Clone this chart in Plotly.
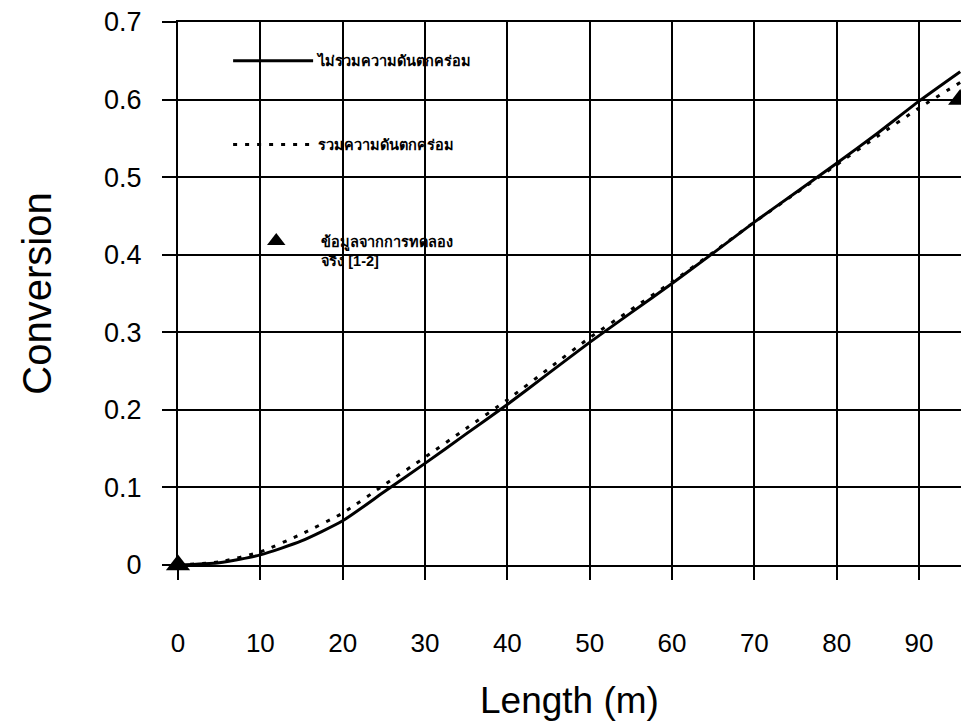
import plotly.graph_objects as go

# Data
length_m = [0, 5, 10, 15, 20, 25, 30, 35, 40, 45, 50, 55, 60, 65, 70, 75, 80, 85, 90, 95]
conv_no_dp = [0, 0.003, 0.013, 0.031, 0.057, 0.094, 0.131, 0.169, 0.207, 0.247, 0.287,
              0.325, 0.363, 0.402, 0.442, 0.480, 0.518, 0.557, 0.598, 0.636]
conv_with_dp = [0, 0.004, 0.017, 0.040, 0.067, 0.103, 0.139, 0.176, 0.213, 0.253, 0.293,
                0.329, 0.365, 0.403, 0.442, 0.479, 0.516, 0.553, 0.589, 0.622]
exp_length = [0, 95]
exp_conv = [0, 0.6]

x_ticks = [0, 10, 20, 30, 40, 50, 60, 70, 80, 90]
y_ticks = [0, 0.1, 0.2, 0.3, 0.4, 0.5, 0.6, 0.7]
y_ticktext = ["0", "0.1", "0.2", "0.3", "0.4", "0.5", "0.6", "0.7"]

names = ["ไม่รวมความดันตกคร่อม", "รวมความดันตกคร่อม", "ข้อมูลจากการทดลอง<br>จริง [1-2]"]

fig = go.Figure()
fig.add_trace(go.Scatter(x=length_m, y=conv_no_dp, mode="lines", name=names[0],
                         line=dict(color="black", width=3, shape="spline", smoothing=0.6),
                         legendgroup="a", legend="legend"))
fig.add_trace(go.Scatter(x=length_m, y=conv_with_dp, mode="lines", name=names[1],
                         line=dict(color="black", width=3, dash="4px,8px", shape="spline", smoothing=0.6),
                         legendgroup="b", legend="legend"))
fig.add_trace(go.Scatter(x=exp_length, y=exp_conv, mode="markers", name=names[2],
                         marker=dict(symbol="triangle-up", size=21, color="black"),
                         cliponaxis=False, legendgroup="c", legend="legend2"))

axis_font = dict(family="Liberation Sans, Arial, sans-serif", size=27, color="black")
legend_font = dict(family="Liberation Sans, Noto Sans, sans-serif", size=14.5, color="black", weight="bold")

fig.update_layout(
    width=961, height=723,
    margin=dict(l=178, r=0, t=22, b=158),
    paper_bgcolor="white", plot_bgcolor="white",
    font=dict(family="Liberation Sans, Arial, sans-serif", color="black"),
    showlegend=True,
    legend=dict(x=0.064, y=0.958, xanchor="left", yanchor="top",
                bgcolor="rgba(0,0,0,0)", borderwidth=0, font=legend_font,
                tracegroupgap=62, valign="top", itemwidth=80),
    legend2=dict(x=0.068, y=0.626, xanchor="left", yanchor="top",
                 bgcolor="rgba(0,0,0,0)", borderwidth=0, font=legend_font,
                 valign="top", itemwidth=80),
    xaxis=dict(range=[0, 95.1], tickvals=x_ticks, tickfont=dict(axis_font, size=26),
               showgrid=True, gridcolor="black", gridwidth=2,
               showline=True, linecolor="black", linewidth=2, mirror=True,
               ticks="outside", ticklen=13, tickwidth=2, tickcolor="black",
               ticklabelstandoff=41, zeroline=False, automargin=False,
               title=dict(text="Length (m)", font=dict(size=37, color="black"), standoff=30)),
    yaxis=dict(range=[0, 0.7], tickvals=y_ticks, ticktext=y_ticktext, tickfont=axis_font,
               showgrid=True, gridcolor="black", gridwidth=2,
               showline=True, linecolor="black", linewidth=2,
               ticks="outside", ticklen=14, tickwidth=2, tickcolor="black",
               ticklabelstandoff=15, zeroline=False, automargin=False,
               title=dict(text="Conversion", font=dict(size=40, color="black"), standoff=40)),
)

fig.write_html(
    "out.html",
    config={"displayModeBar": False},
    post_script="document.body.style.margin='0';document.body.style.overflow='hidden';",
)
